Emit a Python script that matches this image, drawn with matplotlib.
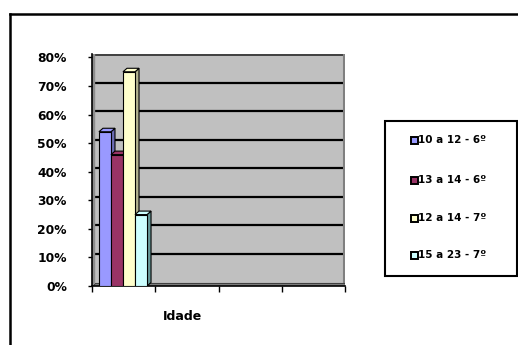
import matplotlib
matplotlib.use('Agg')
import matplotlib.pyplot as plt
from matplotlib.patches import Polygon, Rectangle
from matplotlib.lines import Line2D
import numpy as np

# data
series = ['10 a 12 - 6º', '13 a 14 - 6º', '12 a 14 - 7º', '15 a 23 - 7º']
values = [0.54, 0.46, 0.75, 0.25]
yticks = [0, 0.1, 0.2, 0.3, 0.4, 0.5, 0.6, 0.7, 0.8]
n_slots = 4

front = ['#9999FF', '#993366', '#FFFFCC', '#CCFFFF']
side = ['#6B6BB3', '#6B2447', '#B3B38F', '#669999']

W, H = 518, 345
fig = plt.figure(figsize=(W / 100, H / 100), dpi=100)
fig.patch.set_facecolor('white')

# axes rect in pixels
x0, x1, ytop, ybot = 92, 345, 54, 286
ax = fig.add_axes([x0 / W, 1 - ybot / H, (x1 - x0) / W, (ybot - ytop) / H])
ymax = 0.8 + 0.1 * 3.5 / 28.6
ax.set_xlim(0, n_slots)
ax.set_ylim(0, ymax)
ax.set_facecolor('#C0C0C0')

# depth offsets in data units
px_x = (x1 - x0) / n_slots
px_y = (ybot - ytop) / ymax
dx = 4 / px_x
dy = 3.5 / px_y

# back wall gridlines (shifted by depth)
for v in yticks[1:-1]:
    ax.axhline(v + dy, color='black', lw=1.6, zorder=1)
ax.axhline(0.8 + dy - 0.002, color='#404040', lw=1.4, zorder=1)
ax.axvline(n_slots - 0.01, color='#808080', lw=1.5, zorder=1)

# left wall and floor
ax.add_patch(Polygon([[0, 0], [dx * 0.8, dy], [dx * 0.8, ymax], [0, ymax]],
                     closed=True, facecolor='#8C8C8C', edgecolor='none', zorder=1.5))
ax.add_patch(Polygon([[0, 0], [n_slots, 0], [n_slots, dy], [dx * 0.8, dy]],
                     closed=True, facecolor='#808080', edgecolor='#404040', lw=0.8, zorder=1.5))

# bars
bw = 0.19
start = 0.11
for i, v in enumerate(values):
    left = start + i * bw
    z = 3 + i
    top = [[left, v], [left + dx, v + dy], [left + bw + dx, v + dy], [left + bw, v]]
    sidep = [[left + bw, 0], [left + bw + dx, dy], [left + bw + dx, v + dy], [left + bw, v]]
    ax.add_patch(Polygon(sidep, closed=True, facecolor=side[i], edgecolor='black', lw=0.8, zorder=z))
    ax.add_patch(Polygon(top, closed=True, facecolor=front[i], edgecolor='black', lw=0.8, zorder=z))
    ax.bar(left, v, width=bw, align='edge', color=front[i], edgecolor='black', lw=0.8, zorder=z + 0.5)

for s in ['top', 'right']:
    ax.spines[s].set_visible(False)
ax.spines['left'].set_color('black')
ax.spines['bottom'].set_color('black')
ax.spines['left'].set_linewidth(1.2)
ax.spines['bottom'].set_linewidth(1.2)

ax.set_yticks(yticks)
ax.set_yticklabels(['{:.0f}%'.format(t * 100) for t in yticks],
                   fontsize=8.8, fontweight='bold', family='DejaVu Sans')
ax.tick_params(axis='y', direction='out', length=3, width=1, pad=15)
ax.set_xticks(range(n_slots + 1))
ax.set_xticklabels([])
ax.tick_params(axis='x', direction='out', length=4, width=1)

fig.text(183 / W, 1 - 317 / H, 'Idade', ha='center', va='center',
         fontsize=9, fontweight='bold')

# legend box
lx0, lx1, ly0, ly1 = 385, 517, 121, 276
fig.add_artist(Rectangle((lx0 / W, 1 - ly1 / H), (lx1 - lx0) / W, (ly1 - ly0) / H,
                         transform=fig.transFigure, facecolor='white',
                         edgecolor='black', lw=1.5))
ent_y = [140, 180, 218, 255]
for i, name in enumerate(series):
    fig.add_artist(Rectangle((411 / W, 1 - ent_y[i] / H - 3.5 / H), 7 / W, 7 / H,
                             transform=fig.transFigure, facecolor=front[i],
                             edgecolor='black', lw=1.4))
    fig.text(418 / W, 1 - ent_y[i] / H, name, ha='left', va='center',
             fontsize=7.5, fontweight='bold')

# chart area frame (top and left edges)
fig.add_artist(Line2D([10 / W, 1.0], [1 - 14 / H, 1 - 14 / H], color='black', lw=1.8,
                      transform=fig.transFigure))
fig.add_artist(Line2D([10 / W, 10 / W], [1 - 14 / H, 0], color='black', lw=1.8,
                      transform=fig.transFigure))

fig.savefig('out.png', dpi=100)
